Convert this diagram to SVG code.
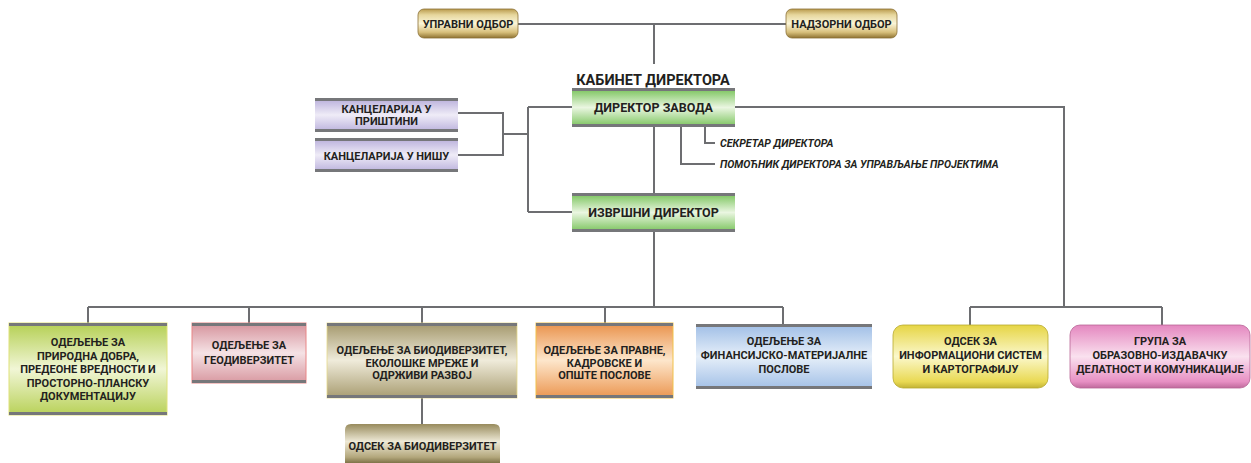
<svg xmlns="http://www.w3.org/2000/svg" width="1251" height="463" viewBox="0 0 1251 463">
<defs>
<linearGradient id="gGold" x1="0" y1="0" x2="0" y2="1"><stop offset="0" stop-color="#b99a4c"/><stop offset="0.2" stop-color="#e6d69c"/><stop offset="0.5" stop-color="#fbf5d8"/><stop offset="0.8" stop-color="#d8c07c"/><stop offset="1" stop-color="#8f7332"/></linearGradient>
<linearGradient id="gGreen" x1="0" y1="0" x2="0" y2="1"><stop offset="0" stop-color="#74c155"/><stop offset="0.5" stop-color="#eaf6e1"/><stop offset="1" stop-color="#79c35b"/></linearGradient>
<linearGradient id="gLav" x1="0" y1="0" x2="0" y2="1"><stop offset="0" stop-color="#b6acd9"/><stop offset="0.5" stop-color="#efecf7"/><stop offset="1" stop-color="#bab0dc"/></linearGradient>
<linearGradient id="gLime" x1="0" y1="0" x2="0" y2="1"><stop offset="0" stop-color="#b4cf52"/><stop offset="0.5" stop-color="#f1f6d6"/><stop offset="1" stop-color="#b8d158"/></linearGradient>
<linearGradient id="gRose" x1="0" y1="0" x2="0" y2="1"><stop offset="0" stop-color="#d5929b"/><stop offset="0.5" stop-color="#f5e2e5"/><stop offset="1" stop-color="#d898a0"/></linearGradient>
<linearGradient id="gTan" x1="0" y1="0" x2="0" y2="1"><stop offset="0" stop-color="#a3976b"/><stop offset="0.5" stop-color="#efebda"/><stop offset="1" stop-color="#a89c70"/></linearGradient>
<linearGradient id="gTanR" x1="0" y1="0" x2="0" y2="1"><stop offset="0" stop-color="#988b5d"/><stop offset="0.45" stop-color="#eee9d6"/><stop offset="0.85" stop-color="#b3a77c"/><stop offset="1" stop-color="#7f7348"/></linearGradient>
<linearGradient id="gOrange" x1="0" y1="0" x2="0" y2="1"><stop offset="0" stop-color="#e9914a"/><stop offset="0.5" stop-color="#fde6cb"/><stop offset="1" stop-color="#eb9650"/></linearGradient>
<linearGradient id="gBlue" x1="0" y1="0" x2="0" y2="1"><stop offset="0" stop-color="#9ebde6"/><stop offset="0.5" stop-color="#e6eff9"/><stop offset="1" stop-color="#a2c0e7"/></linearGradient>
<linearGradient id="gYellow" x1="0" y1="0" x2="0" y2="1"><stop offset="0" stop-color="#e6d544"/><stop offset="0.5" stop-color="#fbf8cc"/><stop offset="0.9" stop-color="#e9d952"/><stop offset="1" stop-color="#c2b336"/></linearGradient>
<linearGradient id="gPink" x1="0" y1="0" x2="0" y2="1"><stop offset="0" stop-color="#e487bf"/><stop offset="0.5" stop-color="#fae1ef"/><stop offset="0.9" stop-color="#e78fc3"/><stop offset="1" stop-color="#bf6a9c"/></linearGradient>
</defs>
<style>
.c{fill:none;stroke:#6d6e71;stroke-width:2}
.bar{fill:#76777a}
.t{font-family:Roboto,"Liberation Sans",sans-serif;font-weight:bold;fill:#231f20;text-anchor:middle;font-size:11px}
.h{font-size:12.5px}
.k{font-size:14.5px}
.i{font-family:Roboto,"Liberation Sans",sans-serif;font-weight:bold;font-style:italic;fill:#231f20;font-size:10.6px}
</style>
<g id="connectors">
<path class="c" d="M518 24H786M654 24V64"/>
<path class="c" d="M458 113H503V155H458M503 134H528M528 107V212M528 107H572M528 212H572"/>
<path class="c" d="M654 127V193M654 232V307M88 307H783M88 307V323M249 307V323M422 307V323M605 307V323M783 307V324M422 398V424"/>
<path class="c" d="M705 127V143H715M681 127V164H715"/>
<path class="c" d="M735 107H1064V307M970 307H1162M970 307V325M1162 307V325"/>
</g>
<g id="upravni-odbor">
<rect x="418" y="9" width="100" height="29" rx="6" fill="url(#gGold)" stroke="#8a7035" stroke-width="0.8"/>
<text class="t" x="468" y="27.5" font-size="10.5">УПРАВНИ ОДБОР</text>
</g>
<g id="nadzorni-odbor">
<rect x="786" y="9" width="111" height="29" rx="6" fill="url(#gGold)" stroke="#8a7035" stroke-width="0.8"/>
<text class="t" x="841.5" y="27.5" font-size="10.5">НАДЗОРНИ ОДБОР</text>
</g>
<g id="kabinet">
<text class="t k" x="653" y="85">КАБИНЕТ ДИРЕКТОРА</text>
</g>
<g id="direktor-zavoda">
<rect x="572" y="88" width="163" height="39" fill="url(#gGreen)"/>
<rect class="bar" x="572" y="88" width="163" height="3"/>
<rect class="bar" x="572" y="124" width="163" height="3"/>
<text class="t h" x="653.5" y="111.5">ДИРЕКТОР ЗАВОДА</text>
</g>
<g id="sekretar">
<text class="i" x="720" y="147">СЕКРЕТАР ДИРЕКТОРА</text>
</g>
<g id="pomocnik">
<text class="i" x="720" y="168">ПОМОЋНИК ДИРЕКТОРА ЗА УПРАВЉАЊЕ ПРОЈЕКТИМА</text>
</g>
<g id="kancelarija-pristina">
<rect x="315" y="98" width="143" height="34" fill="url(#gLav)"/>
<rect class="bar" x="315" y="98" width="143" height="3"/>
<rect class="bar" x="315" y="129" width="143" height="3"/>
<text class="t" x="386.5" y="113">КАНЦЕЛАРИЈА У</text>
<text class="t" x="386.5" y="125">ПРИШТИНИ</text>
</g>
<g id="kancelarija-nis">
<rect x="315" y="138" width="143" height="34" fill="url(#gLav)"/>
<rect class="bar" x="315" y="138" width="143" height="3"/>
<rect class="bar" x="315" y="169" width="143" height="3"/>
<text class="t" x="386.5" y="160">КАНЦЕЛАРИЈА У НИШУ</text>
</g>
<g id="izvrsni-direktor">
<rect x="572" y="193" width="163" height="39" fill="url(#gGreen)"/>
<rect class="bar" x="572" y="193" width="163" height="3"/>
<rect class="bar" x="572" y="229" width="163" height="3"/>
<text class="t h" x="653.5" y="217">ИЗВРШНИ ДИРЕКТОР</text>
</g>
<g id="odeljenje-prirodna">
<rect x="9" y="323" width="158" height="92" fill="url(#gLime)" stroke="#dfe27a" stroke-width="1"/>
<rect class="bar" x="9" y="323" width="158" height="3"/>
<rect class="bar" x="9" y="412" width="158" height="3"/>
<text class="t" x="88" y="346">ОДЕЉЕЊЕ ЗА</text>
<text class="t" x="88" y="359.5">ПРИРОДНА ДОБРА,</text>
<text class="t" x="88" y="373">ПРЕДЕОНЕ ВРЕДНОСТИ И</text>
<text class="t" x="88" y="386.5">ПРОСТОРНО-ПЛАНСКУ</text>
<text class="t" x="88" y="400">ДОКУМЕНТАЦИЈУ</text>
</g>
<g id="odeljenje-geo">
<rect x="192" y="323" width="114" height="60" fill="url(#gRose)" stroke="#e98686" stroke-width="1"/>
<rect class="bar" x="192" y="323" width="114" height="3"/>
<rect class="bar" x="192" y="380" width="114" height="3"/>
<text class="t" x="249" y="349">ОДЕЉЕЊЕ ЗА</text>
<text class="t" x="249" y="364">ГЕОДИВЕРЗИТЕТ</text>
</g>
<g id="odeljenje-bio">
<rect x="327" y="323" width="190" height="75" fill="url(#gTan)" stroke="#e5d98a" stroke-width="0.8"/>
<rect class="bar" x="327" y="323" width="190" height="3"/>
<rect class="bar" x="327" y="395" width="190" height="3"/>
<text class="t" x="422" y="354">ОДЕЉЕЊЕ ЗА БИОДИВЕРЗИТЕТ,</text>
<text class="t" x="422" y="366.5">ЕКОЛОШКЕ МРЕЖЕ И</text>
<text class="t" x="422" y="379">ОДРЖИВИ РАЗВОЈ</text>
</g>
<g id="odsek-bio">
<path d="M345 463V430Q345 424 351 424H494Q500 424 500 430V463Z" fill="url(#gTanR)"/>
<text class="t" x="422.5" y="449.5">ОДСЕК ЗА БИОДИВЕРЗИТЕТ</text>
</g>
<g id="odeljenje-pravne">
<rect x="536" y="323" width="137" height="75" fill="url(#gOrange)" stroke="#f1c24a" stroke-width="1"/>
<rect class="bar" x="536" y="323" width="137" height="3"/>
<rect class="bar" x="536" y="395" width="137" height="3"/>
<text class="t" x="604.5" y="354">ОДЕЉЕЊЕ ЗА ПРАВНЕ,</text>
<text class="t" x="604.5" y="366.5">КАДРОВСКЕ И</text>
<text class="t" x="604.5" y="379">ОПШТЕ ПОСЛОВЕ</text>
</g>
<g id="odeljenje-finansije">
<rect x="696" y="324" width="176" height="65" fill="url(#gBlue)"/>
<rect class="bar" x="696" y="324" width="176" height="3"/>
<rect class="bar" x="696" y="386" width="176" height="3"/>
<text class="t" x="784" y="345">ОДЕЉЕЊЕ ЗА</text>
<text class="t" x="784" y="359">ФИНАНСИЈСКО-МАТЕРИЈАЛНЕ</text>
<text class="t" x="784" y="373">ПОСЛОВЕ</text>
</g>
<g id="odsek-informacioni">
<rect x="893" y="325" width="155" height="63" rx="10" fill="url(#gYellow)" stroke="#b7a92f" stroke-width="0.8"/>
<text class="t" x="970.5" y="345">ОДСЕК ЗА</text>
<text class="t" x="970.5" y="359">ИНФОРМАЦИОНИ СИСТЕМ</text>
<text class="t" x="970.5" y="373">И КАРТОГРАФИЈУ</text>
</g>
<g id="grupa-obrazovno">
<rect x="1070" y="325" width="180" height="63" rx="10" fill="url(#gPink)" stroke="#b86595" stroke-width="0.8"/>
<text class="t" x="1160" y="345">ГРУПА ЗА</text>
<text class="t" x="1160" y="359">ОБРАЗОВНО-ИЗДАВАЧКУ</text>
<text class="t" x="1160" y="373">ДЕЛАТНОСТ И КОМУНИКАЦИЈЕ</text>
</g>
</svg>
